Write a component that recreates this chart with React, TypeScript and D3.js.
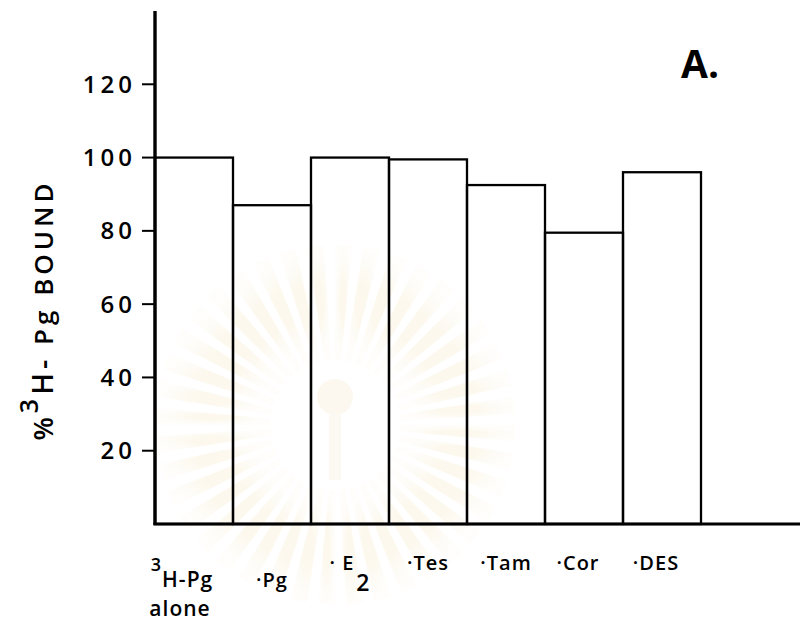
import React from "react";
import * as d3 from "d3";

// Binding of 3H-progesterone alone and with competing steroids
const categories = ["3H-Pg alone", "Pg", "E2", "Tes", "Tam", "Cor", "DES"];
const boundPct = [100, 87, 100, 99.5, 92.5, 79.5, 96];
const yTicks = [20, 40, 60, 80, 100, 120];

// Axis label pieces: superscript, main text, subscript, second line
const labelSup = ["3", "", "", "", "", "", ""];
const labelMain = ["H-Pg", "·Pg", "· E", "·Tes", "·Tam", "·Cor", "·DES"];
const labelSub = ["", "", "2", "", "", "", ""];
const labelLine2 = ["alone", "", "", "", "", "", ""];

const W = 804;
const H = 625;
const FONT = "'Open Sans', 'DejaVu Sans', sans-serif";

export default function App() {
  const x = d3.scaleBand<string>().domain(categories).range([155, 701]).padding(0);
  const y = d3.scaleLinear().domain([0, 140]).range([524, 11]);

  // faint sunburst emblem in the background
  const cx = 335;
  const cy = 425;
  const nRays = 40;
  const rays = d3.range(nRays).map((i) => {
    const a0 = (i / nRays) * Math.PI * 2;
    const a1 = a0 + ((Math.PI * 2) / nRays) * 0.6;
    return d3.arc()({
      innerRadius: 65,
      outerRadius: 180,
      startAngle: a0,
      endAngle: a1,
    } as any) as string;
  });

  // per-label horizontal nudges and baselines
  const labelDx = [-12, 0, 0, 0, 0, -6, -6];
  const labelY = [587, 587, 570, 570, 570, 570, 570];

  return (
    <svg
      width={W}
      height={H}
      style={{ position: "absolute", left: 0, top: 0, background: "#fff" }}
      fontFamily={FONT}
    >
      <rect width={W} height={H} fill="#fff" />
      <defs>
        <radialGradient id="rayFade" cx="50%" cy="50%" r="50%">
          <stop offset="0.35" stopColor="#f3e0b0" stopOpacity={0.22} />
          <stop offset="1" stopColor="#f6e9c8" stopOpacity={0.07} />
        </radialGradient>
      </defs>
      <g transform={`translate(${cx},${cy})`} fill="url(#rayFade)">
        {rays.map((d, i) => (
          <path key={i} d={d} />
        ))}
        <circle r={18} cy={-28} fill="#f5e8cc" opacity={0.3} />
        <rect x={-6} y={-10} width={12} height={65} fill="#f5e8cc" opacity={0.25} />
      </g>

      {/* bars */}
      {categories.map((c, i) => (
        <rect
          key={c}
          x={x(c)!}
          y={y(boundPct[i])}
          width={x.bandwidth()}
          height={y(0) - y(boundPct[i])}
          fill="none"
          stroke="#000"
          strokeWidth={2.3}
        />
      ))}

      {/* y axis */}
      <line x1={155} x2={155} y1={y(0) + 1} y2={y(140)} stroke="#000" strokeWidth={3.4} />
      {yTicks.map((t) => (
        <g key={t}>
          <line x1={142} x2={155} y1={y(t)} y2={y(t)} stroke="#000" strokeWidth={2} />
          <text
            x={136}
            y={y(t)}
            dy="0.36em"
            textAnchor="end"
            fontSize={24}
            fontWeight={600}
            letterSpacing={4}
            fill="#000"
          >
            {t}
          </text>
        </g>
      ))}

      {/* x axis */}
      <line x1={153.5} x2={800} y1={y(0)} y2={y(0)} stroke="#000" strokeWidth={3.2} />

      {/* category labels */}
      {categories.map((c, i) => {
        const cxl = x(c)! + x.bandwidth() / 2 + labelDx[i];
        return (
          <g key={c} fontSize={20} fontWeight={600} fill="#000" letterSpacing={1}>
            <text x={cxl} y={labelY[i]} textAnchor="middle">
              {labelSup[i] && (
                <tspan fontSize={18} dy={-16}>
                  {labelSup[i]}
                </tspan>
              )}
              <tspan dy={labelSup[i] ? 16 : 0} fontSize={labelSup[i] ? 21 : 20}>
                {labelMain[i]}
              </tspan>
              {labelSub[i] && (
                <tspan fontSize={23} dy={21} dx={2}>
                  {labelSub[i]}
                </tspan>
              )}
            </text>
            {labelLine2[i] && (
              <text x={cxl - 2} y={616} textAnchor="middle" fontSize={21}>
                {labelLine2[i]}
              </text>
            )}
          </g>
        );
      })}

      {/* y axis title */}
      <text
        transform="translate(53,310) rotate(-90)"
        textAnchor="middle"
        fontSize={26}
        fontWeight={600}
        letterSpacing={4}
        fill="#000"
      >
        <tspan fontSize={27}>%</tspan>
        <tspan fontSize={25} dy={-15}>3</tspan>
        <tspan dy={15} fontSize={29}>H-</tspan>
        <tspan> Pg  BOUND</tspan>
      </text>

      {/* panel letter */}
      <text x={681} y={78} fontSize={39} fontWeight={700} fill="#000">
        A.
      </text>
    </svg>
  );
}
